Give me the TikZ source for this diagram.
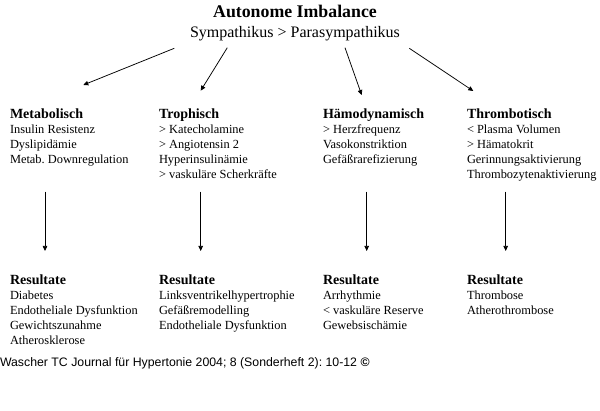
\documentclass[tikz,border=0pt]{standalone}
\usepackage{fontspec}
\setmainfont{Liberation Serif}
\newfontfamily\footfont{Liberation Sans}
\usetikzlibrary{arrows.meta}
\frenchspacing
\begin{document}
\begin{tikzpicture}[x=1pt,y=-1pt,
  txt/.style={anchor=base west,inner sep=0pt,outer sep=0pt},
  colhead/.style={txt,font=\fontsize{14}{15}\selectfont\bfseries},
  body/.style={txt,font=\fontsize{12.4}{15}\selectfont},
  conn/.style={draw=black,line width=0.75pt,-{Triangle[length=5pt,width=4.5pt]}}]
\path[use as bounding box,fill=white] (0,0) rectangle (600,411);

% title
\node[anchor=base,inner sep=0pt,font=\fontsize{17.8}{20}\selectfont\bfseries] (title) at (295,17.3) {Autonome Imbalance};
\node[anchor=base,inner sep=0pt,font=\fontsize{16}{18}\selectfont] (sub) at (295,37.3) {Sympathikus > Parasympathikus};

% column headers
\node[colhead] (h1) at (10,118.3) {Metabolisch};
\node[colhead] (h2) at (159,118.3) {Trophisch};
\node[colhead] (h3) at (323,118.3) {Hämodynamisch};
\node[colhead] (h4) at (467,118.3) {Thrombotisch};

\node[body] (b1) at (10,133.3) {\begin{tabular}[t]{@{}l@{}}Insulin Resistenz\\ Dyslipidämie\\ Metab.\ Downregulation\end{tabular}};
\node[body] (b2) at (159,133.3) {\begin{tabular}[t]{@{}l@{}}> Katecholamine\\ > Angiotensin 2\\ Hyperinsulinämie\\ > vaskuläre Scherkräfte\end{tabular}};
\node[body] (b3) at (323,133.3) {\begin{tabular}[t]{@{}l@{}}> Herzfrequenz\\ Vasokonstriktion\\ Gefäßrarefizierung\end{tabular}};
\node[body] (b4) at (467,133.3) {\begin{tabular}[t]{@{}l@{}}< Plasma Volumen\\ > Hämatokrit\\ Gerinnungsaktivierung\\ Thrombozytenaktivierung\end{tabular}};

% results
\node[colhead] (r1) at (10,284.7) {Resultate};
\node[colhead] (r2) at (159,284.7) {Resultate};
\node[colhead] (r3) at (323,284.7) {Resultate};
\node[colhead] (r4) at (467,284.7) {Resultate};

\node[body] (rb1) at (10,299.3) {\begin{tabular}[t]{@{}l@{}}Diabetes\\ Endotheliale Dysfunktion\\ Gewichtszunahme\\ Atherosklerose\end{tabular}};
\node[body] (rb2) at (159,299.3) {\begin{tabular}[t]{@{}l@{}}Linksventrikelhypertrophie\\ Gefäßremodelling\\ Endotheliale Dysfunktion\end{tabular}};
\node[body] (rb3) at (323,299.3) {\begin{tabular}[t]{@{}l@{}}Arrhythmie\\ < vaskuläre Reserve\\ Gewebsischämie\end{tabular}};
\node[body] (rb4) at (467,299.3) {\begin{tabular}[t]{@{}l@{}}Thrombose\\ Atherothrombose\end{tabular}};

% footer
\node[txt,font=\footfont\fontsize{12.3}{14}\selectfont] (foot) at (0,366.5) {Wascher TC Journal für Hypertonie 2004; 8 (Sonderheft 2): 10-12 {\bfseries ©}};

% connector end points
\coordinate (s1) at (174.3,48.3);  \coordinate (e1) at (83.3,85);
\coordinate (s2) at (227.3,47.7);  \coordinate (e2) at (200.7,90.7);
\coordinate (s3) at (345,47.7);    \coordinate (e3) at (361.7,95);
\coordinate (s4) at (409.3,48.3);  \coordinate (e4) at (473.3,91);
\coordinate (v1s) at (45,191.7);   \coordinate (v1e) at (45,251);
\coordinate (v2s) at (200.7,191.7);\coordinate (v2e) at (200.7,251);
\coordinate (v3s) at (366.7,191.7);\coordinate (v3e) at (366.7,251);
\coordinate (v4s) at (505.7,191.7);\coordinate (v4e) at (505.7,251);

\draw[conn] (s1) -- (e1);
\draw[conn] (s2) -- (e2);
\draw[conn] (s3) -- (e3);
\draw[conn] (s4) -- (e4);
\draw[conn] (v1s) -- (v1e);
\draw[conn] (v2s) -- (v2e);
\draw[conn] (v3s) -- (v3e);
\draw[conn] (v4s) -- (v4e);
\end{tikzpicture}
\end{document}
